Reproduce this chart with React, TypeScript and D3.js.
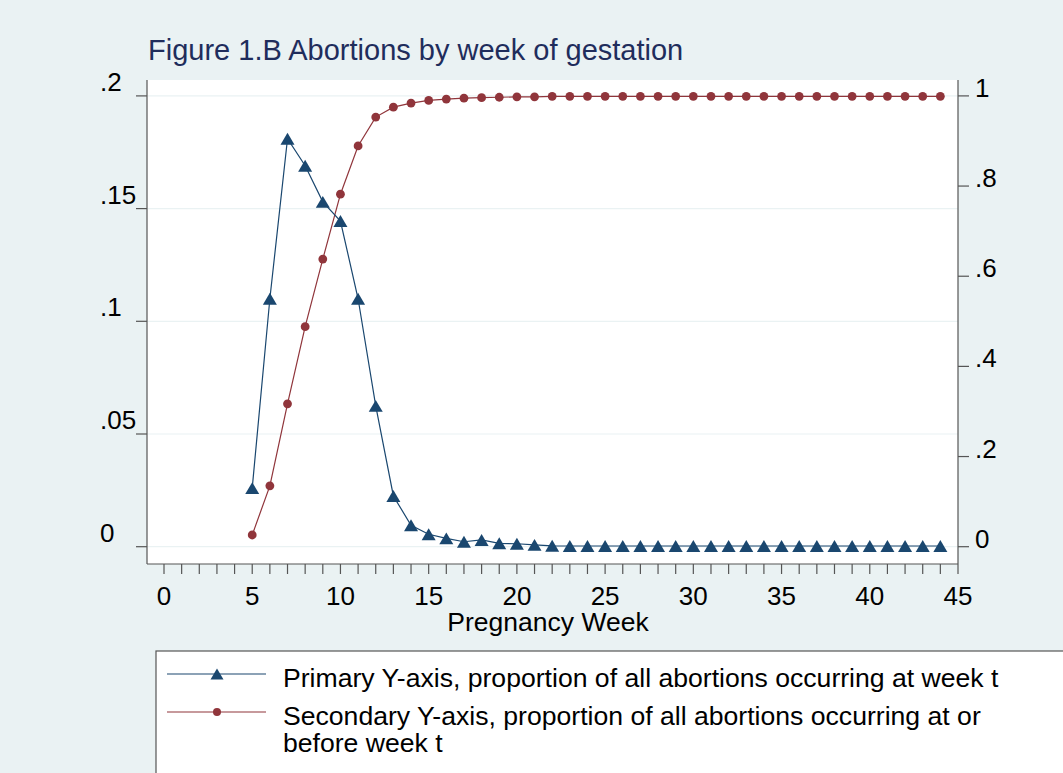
import React from "react";
import * as d3 from "d3";

const weeks: number[] = d3.range(5, 45);
const weeklyShare: number[] = [
  0.026, 0.110, 0.181, 0.169, 0.153, 0.1445, 0.110, 0.0625, 0.0225, 0.0095,
  0.0055, 0.0037, 0.0022, 0.003, 0.0015, 0.0013, 0.0008, 0.0004, 0.0003, 0.0003,
  0.0003, 0.0003, 0.0003, 0.0003, 0.0003, 0.0003, 0.0003, 0.0003, 0.0003, 0.0003,
  0.0003, 0.0003, 0.0003, 0.0003, 0.0003, 0.0003, 0.0003, 0.0003, 0.0003, 0.0003,
];
const cumulativeShare: number[] = [
  0.026, 0.135, 0.317, 0.488, 0.638, 0.782, 0.889, 0.953, 0.975, 0.984,
  0.990, 0.993, 0.995, 0.996, 0.997, 0.998, 0.998, 0.999, 0.999, 0.999,
  0.999, 0.999, 0.999, 0.999, 0.999, 0.999, 0.999, 0.999, 0.999, 0.999,
  0.999, 0.999, 0.999, 0.999, 0.999, 0.999, 0.999, 0.999, 0.999, 0.999,
];
const leftTicks: number[] = [0, 0.05, 0.1, 0.15, 0.2];
const leftTickLabels: string[] = ["0", ".05", ".1", ".15", ".2"];
const rightTicks: number[] = [0, 0.2, 0.4, 0.6, 0.8, 1];
const rightTickLabels: string[] = ["0", ".2", ".4", ".6", ".8", "1"];
const xMajorTicks: number[] = [0, 5, 10, 15, 20, 25, 30, 35, 40, 45];
const xMinorTicks: number[] = d3.range(0, 46);
const titleText = "Figure 1.B Abortions by week of gestation";
const xTitle = "Pregnancy Week";
const legendLines: string[] = [
  "Primary Y-axis, proportion of all abortions occurring at week t",
  "Secondary Y-axis, proportion of all abortions occurring at or",
  "before week t",
];

const W = 1063;
const H = 773;
const BG = "#eaf2f3";
const NAVY = "#1a476f";
const MAROON = "#90353b";
const TITLE = "#1f2d5c";
const AXIS = "#555555";
const FONT = "'Liberation Sans', Arial, sans-serif";

const plotLeft = 147;
const plotRight = 958;
const plotTop = 80;
const plotBottom = 564;

const x = d3.scaleLinear().domain([0, 45]).range([164, 958]);
const yL = d3.scaleLinear().domain([0, 0.2]).range([546.7, 95.9]);
const yR = d3.scaleLinear().domain([0, 1]).range([546.7, 95.9]);

const tri = (cx: number, cy: number, s: number) =>
  `M${cx - s},${cy + s * 0.85}L${cx + s},${cy + s * 0.85}L${cx},${cy - s * 0.85}Z`;

export default function App() {
  const lineL = d3
    .line<number>()
    .x((_, i) => x(weeks[i]))
    .y((d) => yL(d));
  const lineR = d3
    .line<number>()
    .x((_, i) => x(weeks[i]))
    .y((d) => yR(d));

  return (
    <svg
      width={W}
      height={H}
      style={{ position: "absolute", left: 0, top: 0, display: "block" }}
      fontFamily={FONT}
    >
      <rect x={0} y={0} width={W} height={H} fill={BG} />
      <text x={148} y={60} fontSize={29} fill={TITLE}>
        {titleText}
      </text>
      <rect x={plotLeft} y={plotTop} width={plotRight - plotLeft} height={plotBottom - plotTop} fill="#ffffff" />
      {leftTicks.map((t) => (
        <line key={"g" + t} x1={plotLeft} x2={plotRight} y1={yL(t)} y2={yL(t)} stroke={BG} strokeWidth={1.2} />
      ))}
      {/* axes */}
      <line x1={plotLeft} x2={plotLeft} y1={plotTop} y2={plotBottom} stroke={AXIS} strokeWidth={1.2} />
      <line x1={plotRight} x2={plotRight} y1={plotTop} y2={plotBottom} stroke={AXIS} strokeWidth={1.2} />
      <line x1={plotLeft} x2={plotRight} y1={plotBottom} y2={plotBottom} stroke={AXIS} strokeWidth={1.2} />
      {leftTicks.map((t, i) => (
        <g key={"l" + t}>
          <line x1={plotLeft - 11} x2={plotLeft} y1={yL(t)} y2={yL(t)} stroke={AXIS} strokeWidth={1.2} />
          <text x={100} y={yL(t) - 5} fontSize={26} fill="#000">
            {leftTickLabels[i]}
          </text>
        </g>
      ))}
      {rightTicks.map((t, i) => (
        <g key={"r" + t}>
          <line x1={plotRight} x2={plotRight + 11} y1={yR(t)} y2={yR(t)} stroke={AXIS} strokeWidth={1.2} />
          <text x={975} y={yR(t) + 1} fontSize={26} fill="#000">
            {rightTickLabels[i]}
          </text>
        </g>
      ))}
      {xMinorTicks.map((t) => (
        <line key={"x" + t} x1={x(t)} x2={x(t)} y1={plotBottom} y2={plotBottom + 10} stroke={AXIS} strokeWidth={1.2} />
      ))}
      {xMajorTicks.map((t) => (
        <text key={"xl" + t} x={x(t)} y={605} fontSize={26} textAnchor="middle" fill="#000">
          {t}
        </text>
      ))}
      <text x={548} y={631} fontSize={26.5} textAnchor="middle" fill="#000">
        {xTitle}
      </text>

      {/* series */}
      <path d={lineR(cumulativeShare) || ""} fill="none" stroke={MAROON} strokeWidth={1.2} />
      <path d={lineL(weeklyShare) || ""} fill="none" stroke={NAVY} strokeWidth={1.2} />
      {cumulativeShare.map((v, i) => (
        <circle key={"c" + i} cx={x(weeks[i])} cy={yR(v)} r={4.4} fill={MAROON} />
      ))}
      {weeklyShare.map((v, i) => (
        <path key={"t" + i} d={tri(x(weeks[i]), yL(v), 7)} fill={NAVY} />
      ))}

      {/* legend */}
      <rect x={156} y={651} width={W} height={H} fill="#ffffff" stroke={AXIS} strokeWidth={1.2} />
      <line x1={167} x2={266} y1={674} y2={674} stroke={NAVY} strokeWidth={1.2} />
      <path d={tri(217, 674, 6.5)} fill={NAVY} />
      <line x1={167} x2={266} y1={712} y2={712} stroke={MAROON} strokeWidth={1.2} />
      <circle cx={217} cy={712} r={4} fill={MAROON} />
      <text x={283} y={687} fontSize={26.6} fill="#000">
        {legendLines[0]}
      </text>
      <text x={283} y={725} fontSize={26.6} fill="#000">
        {legendLines[1]}
      </text>
      <text x={283} y={752} fontSize={26.6} fill="#000">
        {legendLines[2]}
      </text>
    </svg>
  );
}
